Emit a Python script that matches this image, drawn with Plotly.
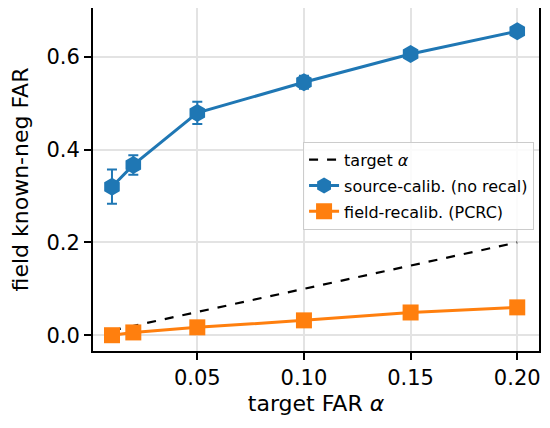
import plotly.graph_objects as go

alpha = [0.01, 0.02, 0.05, 0.10, 0.15, 0.20]
source_far = [0.320, 0.367, 0.479, 0.545, 0.606, 0.655]
source_err = [0.037, 0.021, 0.024, 0.014, 0.007, 0.008]
field_far = [0.000, 0.006, 0.017, 0.032, 0.049, 0.060]
target_x = [0.01, 0.20]
target_y = [0.01, 0.20]

fig = go.Figure()
fig.add_trace(go.Scatter(
    x=target_x, y=target_y, mode="lines", name="target <i>α</i>",
    line=dict(color="black", dash="dash", width=2.2), legendgroup="a",
))
fig.add_trace(go.Scatter(
    x=alpha, y=source_far, mode="lines+markers", name="source-calib. (no recal)",
    line=dict(color="#1f77b4", width=3), legendgroup="b",
    marker=dict(symbol="hexagon", size=18, color="#1f77b4"),
    error_y=dict(type="data", array=source_err, color="#1f77b4", thickness=2, width=5),
))
fig.add_trace(go.Scatter(
    x=alpha, y=field_far, mode="lines+markers", name="field-recalib. (PCRC)",
    line=dict(color="#ff7f0e", width=3), legendgroup="c",
    marker=dict(symbol="square", size=16, color="#ff7f0e"),
))

axis_common = dict(
    showline=True, linecolor="black", linewidth=2, mirror=True,
    ticks="outside", ticklen=7, tickwidth=1.5, tickcolor="black",
    showgrid=True, gridcolor="#e3e3e3", gridwidth=1.5,
    zeroline=False, automargin=False,
    tickfont=dict(family="DejaVu Sans", size=21, color="black"),
)

# the page body has an 8px margin, so the figure is sized to fit inside the window
fig.update_layout(
    width=534, height=412,
    margin=dict(l=85, r=3, t=0, b=69),
    plot_bgcolor="white", paper_bgcolor="white",
    font=dict(family="DejaVu Sans", color="black"),
    xaxis=dict(
        range=[0.0011, 0.2102],
        tickvals=[0.05, 0.10, 0.15, 0.20], ticktext=["0.05", "0.10", "0.15", "0.20"],
        title=dict(text="target FAR <i>α</i>", font=dict(size=22), standoff=6),
        **axis_common,
    ),
    yaxis=dict(
        range=[-0.034, 0.705],
        tickvals=[0.0, 0.2, 0.4, 0.6], ticktext=["0.0", "0.2", "0.4", "0.6"],
        title=dict(text="field known-neg FAR", font=dict(size=22), standoff=12),
        **axis_common,
    ),
    legend=dict(
        x=0.471, y=0.61, xanchor="left", yanchor="top",
        bgcolor="rgba(255,255,255,0.85)", bordercolor="#cccccc", borderwidth=1,
        font=dict(family="DejaVu Sans", size=16, color="black"),
        itemwidth=30, tracegroupgap=2,
    ),
    showlegend=True,
)

fig.write_html("out.html")
